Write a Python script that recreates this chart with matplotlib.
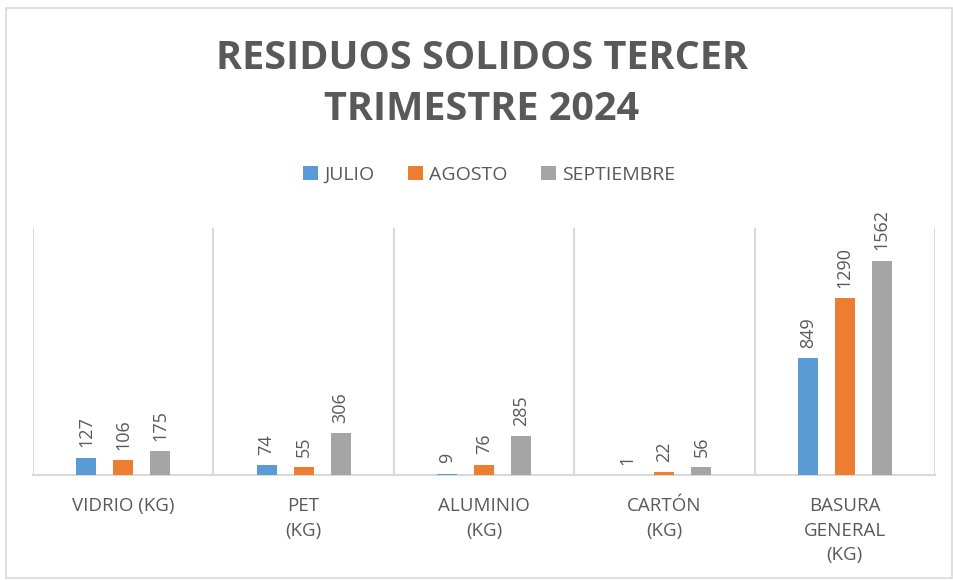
import matplotlib
matplotlib.use("Agg")
import matplotlib.pyplot as plt
import numpy as np
from matplotlib.patches import Rectangle

categories = ["VIDRIO (KG)", "PET\n(KG)", "ALUMINIO\n(KG)", "CARTÓN\n(KG)", "BASURA\nGENERAL\n(KG)"]
series_names = ["JULIO", "AGOSTO", "SEPTIEMBRE"]
julio = [127, 74, 9, 1, 849]
agosto = [106, 55, 76, 22, 1290]
septiembre = [175, 306, 285, 56, 1562]
colors = ["#5B9BD5", "#ED7D31", "#A5A5A5"]
title = "RESIDUOS SOLIDOS TERCER\nTRIMESTRE 2024"

plt.rcParams['font.family'] = ['Open Sans', 'DejaVu Sans']
text_color = "#595959"
grid_color = "#D9D9D9"

fig = plt.figure(figsize=(9.54, 5.80), dpi=100)
fig.patches.append(Rectangle((6/954, 2/580), 946/954, 570/580, transform=fig.transFigure,
                             fill=False, edgecolor=grid_color, linewidth=1.2))

ax = fig.add_axes([33/954, 1 - 475/580, (935 - 33)/954, (475 - 228)/580])
x = np.arange(len(categories))
offset = 0.205
width = 0.11
for i, (vals, name, c) in enumerate(zip([julio, agosto, septiembre], series_names, colors)):
    pos = x + (i - 1) * offset
    bars = ax.bar(pos, vals, width=width, color=c, label=name, zorder=3)
    for b, v in zip(bars, vals):
        ax.text(b.get_x() + b.get_width() / 2, v + 75, str(v), rotation=90,
                ha="center", va="bottom", fontsize=13, color=text_color)

ax.set_xlim(-0.5, len(categories) - 0.5)
ax.set_ylim(0, 1800)
ax.set_yticks([])
for s in ["top", "right", "left"]:
    ax.spines[s].set_visible(False)
ax.spines["bottom"].set_color(grid_color)
ax.spines["bottom"].set_linewidth(1.5)
for b in np.arange(-0.5, len(categories), 1.0):
    ax.axvline(b, color=grid_color, linewidth=1.5, zorder=1)
ax.set_xticks(x)
ax.set_xticklabels(categories, fontsize=13.5, color=text_color, linespacing=1.45)
ax.tick_params(axis="x", length=0, pad=16)

fig.text(0.505, 1 - 84/580, title, ha="center", va="center", fontsize=28.5,
         fontweight="bold", color=text_color, linespacing=1.4)

leg = fig.legend(loc="center", bbox_to_anchor=(0.513, 1 - 175/580), ncol=3, frameon=False,
                 fontsize=14, handlelength=0.75, handleheight=0.75, handletextpad=0.35,
                 columnspacing=1.7, labelcolor=text_color)

fig.savefig("out.png", dpi=100)
